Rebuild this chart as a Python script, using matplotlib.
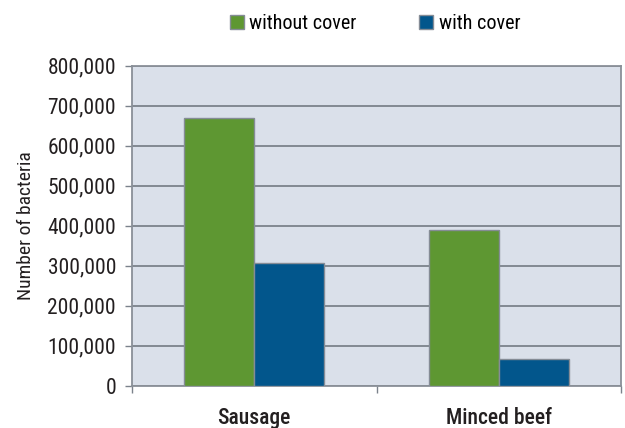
import matplotlib
matplotlib.use("Agg")
import matplotlib.pyplot as plt
from matplotlib.patches import Patch
import numpy as np

# datos
categories = ["Sausage", "Minced beef"]
series_names = ["without cover", "with cover"]
without_cover = [670000, 388000]
with_cover = [308000, 66000]
y_ticks = [0, 100000, 200000, 300000, 400000, 500000, 600000, 700000, 800000]

green = "#5E9732"
blue = "#02568C"
edge = "#858C96"
grid_col = "#7B828B"
text_col = "#231F20"

plt.rcParams['font.family'] = ['Roboto Condensed', 'Liberation Sans', 'DejaVu Sans']

fig = plt.figure(figsize=(6.25, 4.28), dpi=100)
ax = fig.add_axes([132/625, 42.3/428, 489/625, 320/428])
ax.set_facecolor("#DAE0EA")

x = np.arange(len(categories))
w = 0.286
ax.bar(x - w/2, without_cover, w, color=green, edgecolor=edge, linewidth=1, zorder=3)
ax.bar(x + w/2, with_cover, w, color=blue, edgecolor=edge, linewidth=1, zorder=3)

ax.set_xlim(-0.5, 1.5)
ax.set_ylim(0, 800000)
ax.set_yticks(y_ticks)
ax.set_yticklabels([f"{v:,}" for v in y_ticks], fontsize=15.5, color=text_col)
ax.yaxis.grid(True, color=grid_col, linewidth=1.3, zorder=1)
ax.set_axisbelow(True)

# ticks en los bordes de categoria, etiquetas en el centro
ax.set_xticks([-0.5, 0.5, 1.5])
ax.set_xticklabels([])
ax.set_xticks(x, minor=True)
ax.set_xticklabels(categories, minor=True, fontsize=15.5, fontweight='medium', color=text_col)
ax.tick_params(axis='x', which='minor', length=0, pad=15)
ax.tick_params(axis='x', which='major', length=5, color=grid_col, width=1)
ax.tick_params(axis='y', length=5, color=grid_col, width=1, pad=6.5)

for s in ax.spines.values():
    s.set_color("#8A9098")
    s.set_linewidth(1.3)

ax.set_ylabel("Number of bacteria", fontsize=14, color=text_col, labelpad=9)

handles = [Patch(facecolor=green, edgecolor=edge), Patch(facecolor=blue, edgecolor=edge)]
fig.legend(handles, series_names, loc='upper center', bbox_to_anchor=(0.6, 1.0), ncol=2,
           frameon=False, fontsize=14.5, handlelength=0.7, handleheight=0.7,
           handletextpad=0.25, columnspacing=3.13, borderaxespad=0.3)

fig.savefig("out.png", dpi=100)
